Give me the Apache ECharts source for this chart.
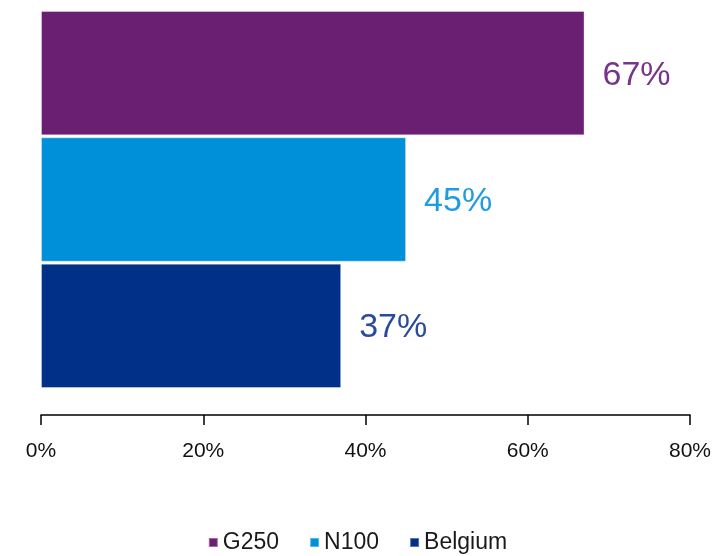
<!DOCTYPE html>
<html>
<head>
<meta charset="utf-8">
<script src="https://cdn.jsdelivr.net/npm/echarts@6/dist/echarts.min.js"></script>
<style>html,body{margin:0;padding:0;background:#fff}#c{width:715px;height:556px}</style>
</head>
<body>
<div id="c"></div>
<script>
const categories = [''];
const seriesNames = ['G250', 'N100', 'Belgium'];
const g250 = [67];
const n100 = [45];
const belgium = [37];
const colors = ['#6B1F73', '#0090DA', '#003087'];
const labelColors = ['#74358A', '#1F9BE0', '#2A4B98'];
const xTicks = [0, 20, 40, 60, 80];

const values = [g250, n100, belgium];
const chart = echarts.init(document.getElementById('c'));
chart.setOption({
  animation: false,
  grid: { left: 41, right: 25, top: 11, bottom: 168 },
  xAxis: {
    type: 'value', min: xTicks[0], max: xTicks[xTicks.length - 1], interval: 20,
    offset: 27,
    axisLine: { show: true, lineStyle: { color: '#000', width: 1.5 } },
    axisTick: { show: true, length: 10, lineStyle: { color: '#000', width: 1.5 } },
    splitLine: { show: false },
    axisLabel: { formatter: '{value}%', color: '#111', fontSize: 21, fontFamily: 'Liberation Sans, Arial', margin: 26 }
  },
  yAxis: { type: 'category', data: categories, inverse: true, show: false },
  legend: {
    bottom: -3, left: 'center', itemWidth: 9, itemHeight: 9, itemGap: 30,
    icon: 'rect',
    textStyle: { fontSize: 23, color: '#1a1a1a', fontFamily: 'Liberation Sans, Arial' },
    data: seriesNames
  },
  series: seriesNames.map((n, i) => ({
    name: n, type: 'bar', data: values[i],
    barCategoryGap: '0%', barGap: '1.6%',
    itemStyle: { color: colors[i], borderColor: 'rgba(255,255,255,0.35)', borderWidth: 1 },
    label: {
      show: true, position: 'right', distance: 18, offset: [0, 2],
      formatter: '{c}%', color: labelColors[i], fontSize: 34,
      fontFamily: 'Liberation Sans, Arial'
    }
  }))
});
</script>
</body>
</html>
